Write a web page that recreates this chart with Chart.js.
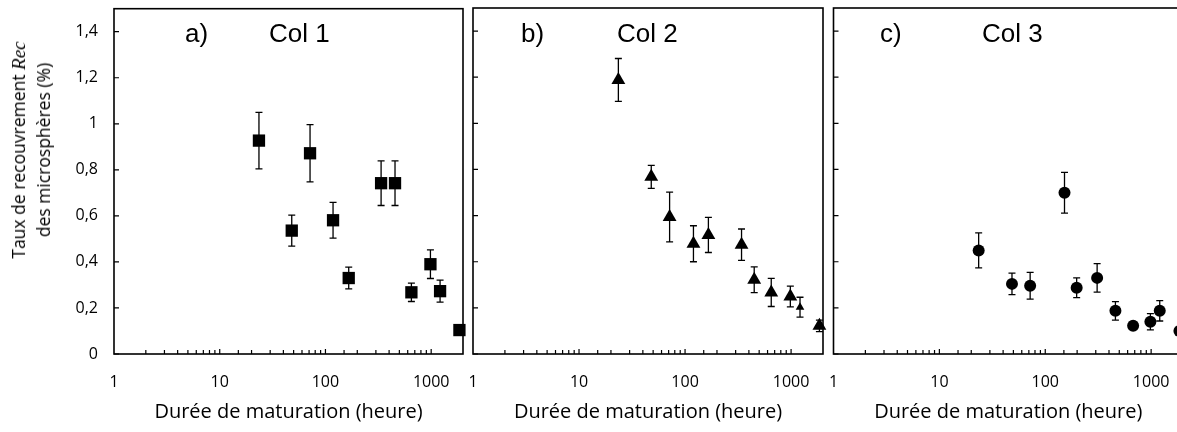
<!DOCTYPE html>
<html lang="fr">
<head>
<meta charset="utf-8">
<title>Taux de recouvrement</title>
<script src="https://cdn.jsdelivr.net/npm/chart.js@4.4.1/dist/chart.umd.min.js"></script>
<style>
  html, body { margin: 0; padding: 0; background: #fff; width: 1177px; height: 432px; overflow: hidden; }
  .panneau { position: absolute; left: 0; top: 0; width: 1190px; height: 432px; }
  #titreY {
    position: absolute; left: 31px; top: 150px;
    transform: translate(-50%, -50%) rotate(-90deg);
    font: 17.5px 'Open Sans'; line-height: 25px; color: #000;
    text-align: center; white-space: nowrap;
  }
  #titreY i { font-family: 'Liberation Serif'; font-size: 19px; }
</style>
</head>
<body>
<div class="panneau"><canvas id="col1" width="1190" height="432"></canvas></div>
<div class="panneau"><canvas id="col2" width="1190" height="432"></canvas></div>
<div class="panneau"><canvas id="col3" width="1190" height="432"></canvas></div>
<div id="titreY">Taux de recouvrement <i>Rec</i><br>des microsphères (%)</div>

<script>
/* ───────── Données ───────── */
const col1Heures = [23.5, 48, 71.5, 118, 166, 336, 455, 650, 984, 1214, 1850];
const col1Rec    = [0.927, 0.536, 0.872, 0.581, 0.330, 0.742, 0.742, 0.268, 0.390, 0.273, 0.104];
const col1Err    = [0.123, 0.067, 0.124, 0.078, 0.047, 0.097, 0.097, 0.040, 0.062, 0.048, 0];

const col2Heures = [23.5, 48, 71.5, 120, 166, 341, 449, 650, 984, 1214, 1850];
const col2Rec    = [1.188, 0.768, 0.594, 0.478, 0.516, 0.474, 0.322, 0.267, 0.249, 0.203, 0.122];
const col2Err    = [0.093, 0.050, 0.108, 0.078, 0.076, 0.068, 0.056, 0.061, 0.045, 0.043, 0.025];

const col3Heures = [23.5, 48.5, 72, 152, 198, 309, 460, 676, 984, 1206, 1850];
const col3Rec    = [0.449, 0.304, 0.296, 0.699, 0.287, 0.330, 0.187, 0.122, 0.140, 0.187, 0.100];
const col3Err    = [0.076, 0.047, 0.058, 0.088, 0.043, 0.062, 0.040, 0.015, 0.035, 0.044, 0];

const yTicks      = [0, 0.2, 0.4, 0.6, 0.8, 1, 1.2, 1.4];
const xTickLabels = [1, 10, 100, 1000];

/* ───────── Cadre + petites graduations intérieures + étiquettes a) Col 1 ───────── */
const cadre = {
  id: 'cadre',
  beforeDatasetsDraw(chart, args, opts) {
    const {ctx, chartArea: a, scales: {x, y}} = chart;
    ctx.save();
    ctx.strokeStyle = '#000';
    ctx.lineWidth = 1.6;
    ctx.strokeRect(a.left, a.top, a.right - a.left, a.bottom - a.top);

    ctx.lineWidth = 1.2;
    ctx.beginPath();
    yTicks.forEach(v => {
      const py = y.getPixelForValue(v);
      ctx.moveTo(a.left, py);
      ctx.lineTo(a.left + 5, py);
    });
    x.ticks.forEach(t => {
      if (t.value <= 1 || t.value > 1000) return;
      const l = Math.log10(t.value);
      const major = Math.abs(l - Math.round(l)) < 1e-9;
      const px = x.getPixelForValue(t.value);
      ctx.moveTo(px, a.bottom);
      ctx.lineTo(px, a.bottom - (major ? 5 : 4));
    });
    ctx.stroke();

    ctx.fillStyle = '#000';
    ctx.font = '26px "Liberation Sans"';
    ctx.textBaseline = 'alphabetic';
    ctx.fillText(opts.lettre, a.left + opts.dxLettre, 42);
    ctx.fillText(opts.nom, a.left + opts.dxNom, 42);
    ctx.restore();
  }
};

/* ───────── Barres d'erreur ───────── */
const barresErreur = {
  id: 'barresErreur',
  beforeDatasetsDraw(chart) {
    const {ctx, scales: {x, y}} = chart;
    chart.data.datasets.forEach(ds => {
      if (!ds.erreurs) return;
      ctx.save();
      ctx.strokeStyle = '#000';
      ctx.lineWidth = 1.3;
      ctx.beginPath();
      ds.data.forEach((p, i) => {
        const e = ds.erreurs[i];
        if (!e) return;
        const px = x.getPixelForValue(p.x);
        const y1 = y.getPixelForValue(p.y + e);
        const y2 = y.getPixelForValue(p.y - e);
        ctx.moveTo(px, y1); ctx.lineTo(px, y2);
        ctx.moveTo(px - 3.5, y1); ctx.lineTo(px + 3.5, y1);
        ctx.moveTo(px - 3.5, y2); ctx.lineTo(px + 3.5, y2);
      });
      ctx.stroke();
      ctx.restore();
    });
  }
};

/* ───────── Un panneau ───────── */
const creerPanneau = (id, heures, rec, err, o) => {
  new Chart(document.getElementById(id), {
    type: 'scatter',
    data: {
      datasets: [{
        data: heures.map((h, i) => ({x: h, y: rec[i]})),
        erreurs: err,
        pointStyle: o.style,
        pointRadius: o.rayon,
        backgroundColor: '#000',
        borderColor: '#000',
        borderWidth: 0,
        clip: false
      }]
    },
    options: {
      responsive: false,
      animation: false,
      devicePixelRatio: 1,
      layout: { padding: { left: o.gauche, right: 1190 - o.droite, top: 8, bottom: 0 } },
      plugins: {
        legend: { display: false },
        tooltip: { enabled: false },
        cadre: { lettre: o.lettre, nom: o.nom, dxLettre: o.dxLettre, dxNom: o.dxNom }
      },
      scales: {
        x: {
          type: 'logarithmic',
          min: 1, max: 2000,
          grid: { display: false, drawTicks: false },
          border: { display: false },
          afterFit: s => { s.height = 78; s.paddingLeft = 0; s.paddingRight = 0; },
          ticks: {
            autoSkip: false, maxRotation: 0, padding: 19,
            color: '#000', font: { family: 'Open Sans', size: 16 },
            callback: v => xTickLabels.includes(v) ? String(v) : ''
          },
          title: {
            display: true, text: 'Durée de maturation (heure)', color: '#000',
            font: { family: 'Open Sans', size: 20 }, padding: { top: 0, bottom: 8 }
          }
        },
        y: {
          min: 0, max: 1.5,
          display: o.axeY,
          afterFit: s => { s.width = o.axeY ? 114 : 0; s.paddingTop = 0; s.paddingBottom = 0; },
          grid: { display: false, drawTicks: false },
          border: { display: false },
          ticks: {
            stepSize: 0.2, includeBounds: false, padding: 16,
            color: '#000', font: { family: 'Open Sans', size: 16 },
            callback: v => String(Math.round(v * 10) / 10).replace('.', ',')
          }
        }
      }
    },
    plugins: [cadre, barresErreur]
  });
};

creerPanneau('col1', col1Heures, col1Rec, col1Err, {
  style: 'rect', rayon: 8.7, axeY: true, gauche: 0, droite: 463,
  lettre: 'a)', nom: 'Col 1', dxLettre: 71, dxNom: 155
});
creerPanneau('col2', col2Heures, col2Rec, col2Err, {
  style: 'triangle', rayon: [8, 8, 8, 8, 8, 8, 8, 8, 8, 5, 8], axeY: false, gauche: 473, droite: 823,
  lettre: 'b)', nom: 'Col 2', dxLettre: 48, dxNom: 144
});
creerPanneau('col3', col3Heures, col3Rec, col3Err, {
  style: 'circle', rayon: 6, axeY: false, gauche: 833.5, droite: 1183,
  lettre: 'c)', nom: 'Col 3', dxLettre: 46.5, dxNom: 148.5
});
</script>
</body>
</html>
